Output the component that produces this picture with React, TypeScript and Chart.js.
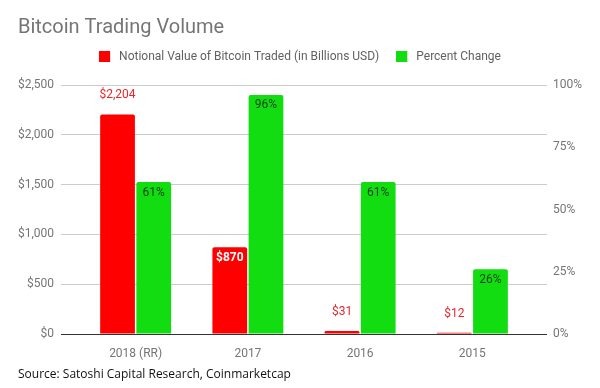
import React, { useEffect, useRef } from "react";
import { Chart, registerables } from "chart.js";

Chart.register(...registerables);

const categories = ["2018 (RR)", "2017", "2016", "2015"];
const notionalValue = [2204, 870, 31, 12];
const percentChange = [61, 96, 61, 26];
const leftTicks = [0, 500, 1000, 1500, 2000, 2500];
const rightTicks = [0, 25, 50, 75, 100];

const titleText = "Bitcoin Trading Volume";
const sourceText = "Source: Satoshi Capital Research, Coinmarketcap";
const seriesNames = ["Notional Value of Bitcoin Traded (in Billions USD)", "Percent Change"];

const RED = "#ff0000";
const GREEN = "#11dd11";
const GRID = "#cccccc";
const ZERO = "#333333";
const TEXT = "#757575";

// extra gutter (in category units) between the gridline ends and the first/last category
const CAT_GUTTER = 0.165;

function makeSwatch(color: string) {
  const c = document.createElement("canvas");
  c.width = 14;
  c.height = 11;
  const g = c.getContext("2d")!;
  g.fillStyle = color;
  g.fillRect(0, 0, 11, 11);
  return c;
}

const labelStyles = [
  { prefix: "$", suffix: "", insideColor: "#ffffff", insideWeight: "bold", outsideColor: "#e8262b" },
  { prefix: "", suffix: "%", insideColor: "#173f17", insideWeight: "normal", outsideColor: "#173f17" },
];

const valueLabels = {
  id: "valueLabels",
  afterDatasetsDraw(chart: any) {
    const ctx = chart.ctx;
    ctx.save();
    ctx.textAlign = "center";
    ctx.textBaseline = "middle";
    chart.data.datasets.forEach((ds: any, di: number) => {
      const meta = chart.getDatasetMeta(di);
      const st = labelStyles[di];
      meta.data.forEach((bar: any, i: number) => {
        const v = ds.data[i] as number;
        const text = st.prefix + v.toLocaleString("en-US") + st.suffix;
        const { x, y, base, width } = bar.getProps(["x", "y", "base", "width"], true);
        ctx.font = `${st.insideWeight} 12px Roboto`;
        const tw = ctx.measureText(text).width;
        const inside = tw + 6 <= width && base - y >= 24;
        if (inside) {
          ctx.fillStyle = st.insideColor;
          ctx.fillText(text, x, y + 10.5);
        } else {
          ctx.font = "normal 12px Roboto";
          ctx.fillStyle = st.outsideColor;
          ctx.fillText(text, x, y - 19);
        }
      });
    });
    ctx.restore();
  },
};

const legendSpacing = {
  id: "legendSpacing",
  beforeInit(chart: any) {
    const legend = chart.legend;
    if (!legend) return;
    const orig = legend.fit;
    legend.fit = function () {
      orig.call(this);
      this.height += 12.5;
    };
  },
};

export default function App() {
  const ref = useRef<HTMLCanvasElement>(null);
  useEffect(() => {
    document.body.style.margin = "0";
    const swatches = [makeSwatch(RED), makeSwatch(GREEN)];
    const chart = new Chart(ref.current!, {
      type: "bar",
      data: {
        labels: categories,
        datasets: [
          {
            label: seriesNames[0],
            data: notionalValue,
            backgroundColor: RED,
            yAxisID: "y",
            borderRadius: 2,
            pointStyle: swatches[0] as any,
          },
          {
            label: seriesNames[1],
            data: percentChange,
            backgroundColor: GREEN,
            yAxisID: "y1",
            borderRadius: 2,
            pointStyle: swatches[1] as any,
          },
        ],
      },
      options: {
        responsive: false,
        animation: false,
        devicePixelRatio: 1,
        categoryPercentage: 0.645,
        barPercentage: 0.96,
        layout: { padding: { left: 18, right: 18, top: 0, bottom: 0 } },
        plugins: {
          title: {
            display: true,
            text: titleText,
            align: "start",
            color: TEXT,
            font: { family: "Roboto", size: 20, weight: "normal" },
            padding: { top: 16, bottom: -6.5 },
          },
          subtitle: {
            display: true,
            text: sourceText,
            position: "bottom",
            align: "start",
            color: "#111111",
            font: { family: "'Open Sans'", size: 12, weight: "normal" },
            padding: { top: 6.6, bottom: 6 },
          },
          legend: {
            display: true,
            position: "top",
            labels: {
              usePointStyle: true,
              pointStyleWidth: 14,
              boxHeight: 11,
              padding: 17,
              color: "#616161",
              font: { family: "Roboto", size: 12 },
            },
          },
          tooltip: { enabled: false },
        },
        scales: {
          x: {
            type: "category",
            offset: true,
            afterBuildTicks: (s: any) => {
              const n = categories.length;
              s._startValue = -0.5 - CAT_GUTTER;
              s._valueRange = n + 2 * CAT_GUTTER;
            },
            afterFit: (s: any) => {
              s.height = 27;
            },
            grid: { display: false, drawTicks: false },
            border: { display: false },
            ticks: { color: TEXT, font: { family: "Roboto", size: 12 }, padding: 13 },
          },
          y: {
            type: "linear",
            position: "left",
            min: 0,
            max: 2500,
            afterBuildTicks: (s: any) => {
              s.ticks = leftTicks.map((v) => ({ value: v }));
            },
            afterFit: (s: any) => {
              s.width = 43;
            },
            grid: {
              color: (c: any) => (c.tick && c.tick.value === 0 ? ZERO : GRID),
              drawTicks: false,
              lineWidth: 1,
            },
            border: { display: false },
            ticks: {
              color: TEXT,
              font: { family: "Roboto", size: 12 },
              padding: 7,
              callback: (v: any) => "$" + Number(v).toLocaleString("en-US"),
            },
          },
          y1: {
            type: "linear",
            position: "right",
            min: 0,
            max: 100,
            afterBuildTicks: (s: any) => {
              s.ticks = rightTicks.map((v) => ({ value: v }));
            },
            afterFit: (s: any) => {
              s.width = 35;
            },
            grid: { drawOnChartArea: false, drawTicks: false },
            border: { display: false },
            ticks: {
              color: TEXT,
              font: { family: "Roboto", size: 12 },
              padding: 6,
              callback: (v: any) => v + "%",
            },
          },
        },
      } as any,
      plugins: [valueLabels, legendSpacing],
    });
    return () => chart.destroy();
  }, []);
  return (
    <div style={{ width: 600, height: 388, background: "#fff" }}>
      <canvas ref={ref} width={600} height={388} />
    </div>
  );
}
